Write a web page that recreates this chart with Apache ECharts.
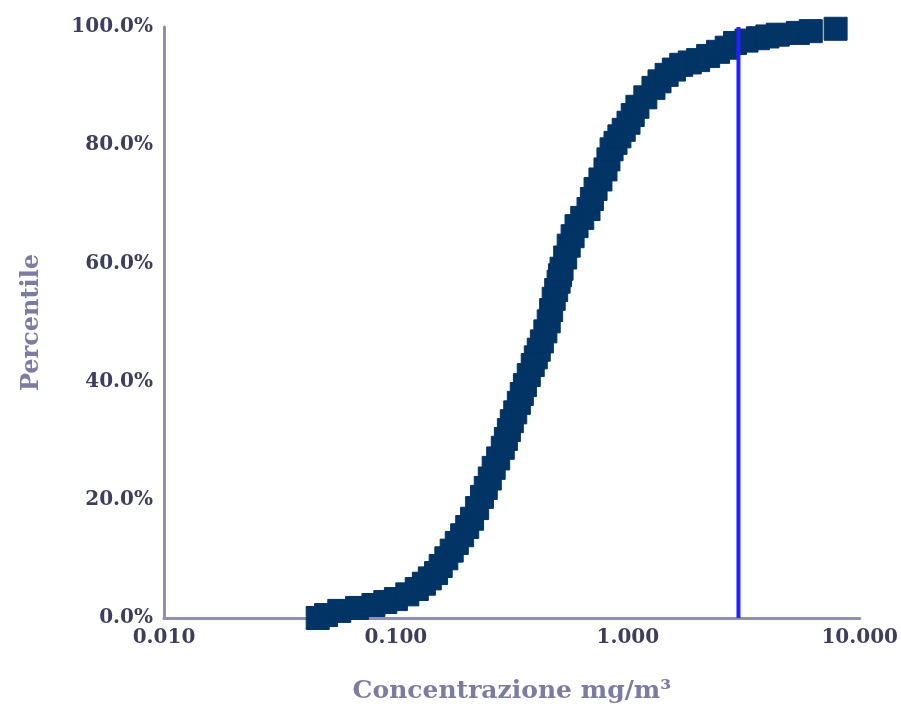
<!DOCTYPE html>
<html>
<head>
<meta charset="utf-8">
<script src="https://cdn.jsdelivr.net/npm/echarts@6/dist/echarts.min.js"></script>
<style>
  html, body { margin: 0; padding: 0; background: #fff; }
  #chart { width: 901px; height: 709px; }
</style>
</head>
<body>
<div id="chart"></div>
<script>
// cumulative distribution (percentile %, concentration mg/m3)
const percentile = [
  0, 0.5, 1.2, 1.7, 2.2, 2.7, 3.2, 4.0, 4.9, 5.8, 6.7, 7.6, 8.8, 10.1, 11.4,
  12.7, 14.0, 15.4, 16.8, 18.6, 20.5, 22.0, 23.6, 25.4, 27.0, 28.8, 30.3, 31.8,
  33.3, 34.8, 36.4, 37.9, 39.4, 41.1, 42.8, 44.1, 45.4, 46.8, 48.5, 50.2, 52.1,
  54.0, 55.5, 56.9, 58.0, 59.1, 61.0, 63.0, 64.6, 66.3, 67.7, 69.2, 70.9, 72.6,
  74.2, 75.9, 77.6, 79.3, 80.4, 81.5, 82.6, 83.8, 85.1, 86.5, 88.1, 89.7, 90.8,
  91.9, 92.8, 93.6, 94.0, 94.4, 95.1, 95.8, 96.5, 97.3, 97.7, 98.1, 98.4, 98.7,
  99.0, 99.3, 99.7
];
const concentration = [
  0.046, 0.050, 0.057, 0.068, 0.080, 0.090, 0.100, 0.112, 0.123, 0.132, 0.140,
  0.149, 0.156, 0.165, 0.174, 0.183, 0.193, 0.203, 0.213, 0.224, 0.235, 0.244,
  0.254, 0.264, 0.276, 0.289, 0.298, 0.307, 0.316, 0.327, 0.339, 0.349, 0.360,
  0.374, 0.389, 0.401, 0.413, 0.426, 0.441, 0.456, 0.467, 0.479, 0.491, 0.503,
  0.510, 0.518, 0.537, 0.556, 0.578, 0.601, 0.636, 0.677, 0.700, 0.726, 0.762,
  0.801, 0.825, 0.851, 0.885, 0.920, 0.960, 1.007, 1.05, 1.10, 1.19, 1.29,
  1.37, 1.47, 1.58, 1.70, 1.85, 2.01, 2.22, 2.45, 2.67, 2.90, 3.25, 3.64, 4.0,
  4.43, 5.41, 6.15, 7.87
];
const limitValue = 3.0;
const xTicks = [0.01, 0.1, 1, 10];

const chart = echarts.init(document.getElementById('chart'));
const labelFont = 'DejaVu Serif';
const markerColor = '#023466';

const option = {
  animation: false,
  grid: { left: 164, right: 39, top: 27, bottom: 88 },
  xAxis: {
    type: 'log',
    logBase: 10,
    min: xTicks[0],
    max: xTicks[xTicks.length - 1],
    name: 'Concentrazione mg/m³',
    nameLocation: 'middle',
    nameGap: 61,
    nameTextStyle: { color: '#7c7ca2', fontFamily: labelFont, fontWeight: 'bold', fontSize: 25 },
    axisLine: { lineStyle: { color: '#9090b4', width: 3 } },
    axisTick: { show: false },
    splitLine: { show: false },
    axisLabel: {
      margin: 10,
      color: '#3d3d5c',
      fontFamily: labelFont,
      fontWeight: 'bold',
      fontSize: 20,
      formatter: (v) => v.toFixed(3)
    }
  },
  yAxis: {
    type: 'value',
    min: 0,
    max: 100,
    interval: 20,
    name: 'Percentile',
    nameLocation: 'middle',
    nameGap: 120,
    nameTextStyle: { color: '#7c7ca2', fontFamily: labelFont, fontWeight: 'bold', fontSize: 24 },
    axisLine: { show: true, lineStyle: { color: '#9090b4', width: 3 } },
    axisTick: { show: false },
    splitLine: { show: false },
    axisLabel: {
      margin: 11,
      color: '#3d3d5c',
      fontFamily: labelFont,
      fontWeight: 'bold',
      fontSize: 20,
      formatter: (v) => v.toFixed(1) + '%'
    }
  },
  series: [
    {
      type: 'scatter',
      symbol: 'rect',
      symbolSize: 23,
      itemStyle: { color: markerColor, opacity: 1, borderColor: markerColor, borderWidth: 1, shadowBlur: 0 },
      emphasis: { disabled: true },
      data: concentration.map((c, i) => [c, percentile[i]]),
      z: 2
    },
    {
      type: 'line',
      data: [[limitValue, 0], [limitValue, 100]],
      symbol: 'none',
      lineStyle: { color: '#2222ff', width: 4 },
      z: 3
    }
  ]
};

chart.setOption(option);
</script>
</body>
</html>
